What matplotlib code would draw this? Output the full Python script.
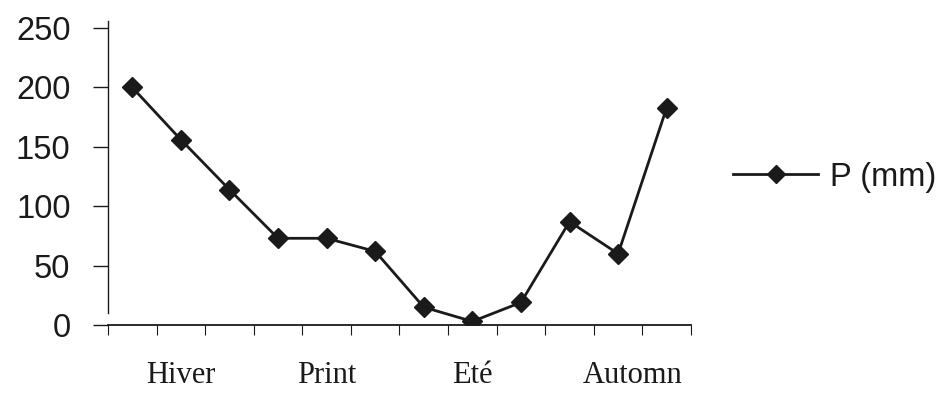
import matplotlib.pyplot as plt
import numpy as np

# monthly precipitation, 12 points
months = np.arange(1, 13)
p_mm = [200, 156, 114, 73, 73, 62, 15, 3, 19, 87, 60, 183]

season_labels = ['Hiver', 'Print', 'Eté', 'Automn']
season_pos = [2, 5, 8, 11.3]
y_ticks = [0, 50, 100, 150, 200, 250]

if __name__ == '__main__':
    fig = plt.figure(figsize=(9.45, 3.98), dpi=100)
    ax = fig.add_axes([0.1143, 0.1834, 0.6169, 0.764])
    ink = '#1a1a1a'

    ax.plot(months, p_mm, color=ink, linewidth=2.0, marker='D', markersize=10.5,
            label='P (mm)')

    ax.set_xlim(0.5, 12.5)
    ax.set_ylim(0, 256)

    ax.spines['top'].set_visible(False)
    ax.spines['right'].set_visible(False)
    ax.spines['left'].set_bounds(10, 256)
    ax.spines['left'].set_color(ink)
    ax.spines['bottom'].set_color(ink)
    ax.spines['left'].set_linewidth(1.0)
    ax.spines['bottom'].set_linewidth(1.3)

    ax.set_yticks(y_ticks)
    ax.set_yticklabels([str(v) for v in y_ticks], fontsize=23.5,
                       family=['Liberation Sans', 'DejaVu Sans'], color=ink)
    ax.tick_params(axis='y', direction='out', length=11, width=1.0, pad=16,
                   color=ink)

    # category boundaries as minor ticks, season names as major labels
    ax.set_xticks(np.arange(0.5, 13, 1), minor=True)
    ax.set_xticks(season_pos)
    ax.set_xticklabels(season_labels, fontsize=22,
                       family=['Liberation Serif', 'DejaVu Serif'], color=ink)
    ax.tick_params(axis='x', which='major', length=0, pad=26)
    ax.tick_params(axis='x', which='minor', direction='out', length=7,
                   width=0.8, color=ink)

    leg = ax.legend(loc='center left', bbox_to_anchor=(0.776, 0.555),
                    bbox_transform=fig.transFigure, frameon=False,
                    prop={'family': ['Liberation Sans', 'DejaVu Sans'], 'size': 23.5},
                    handlelength=2.6, handletextpad=0.35, borderpad=0,
                    borderaxespad=0, markerscale=0.9)
    for t in leg.get_texts():
        t.set_color(ink)

    plt.savefig('out.png', dpi=100)
